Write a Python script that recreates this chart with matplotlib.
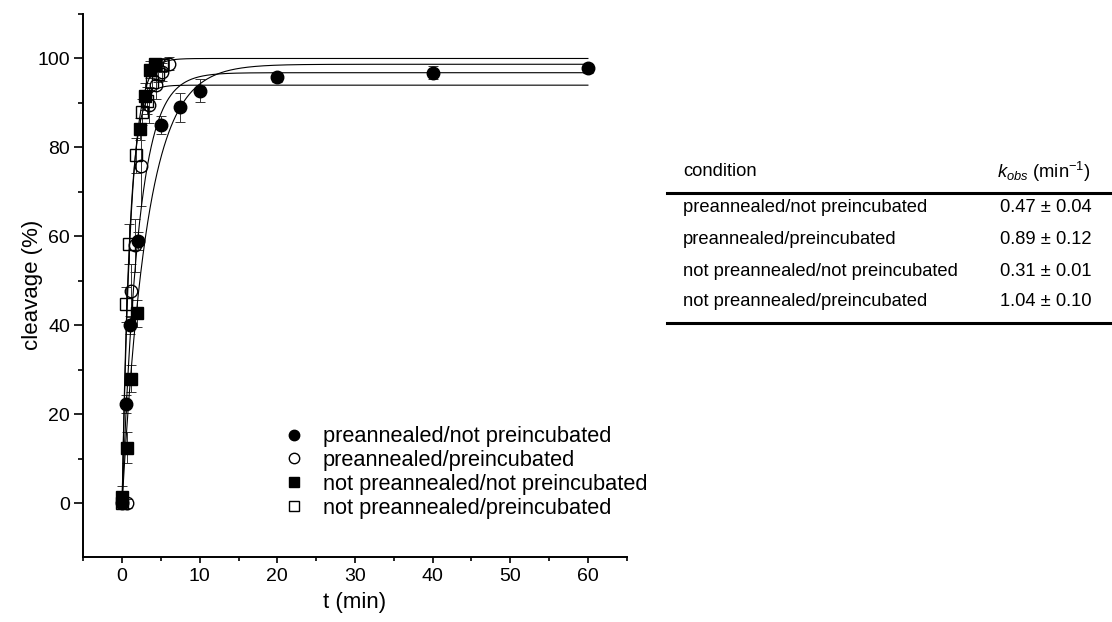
import numpy as np
import matplotlib
matplotlib.use("Agg")
import matplotlib.pyplot as plt
from matplotlib.lines import Line2D

plt.rcParams["font.family"] = ["Liberation Sans", "DejaVu Sans"]
plt.rcParams["mathtext.fontset"] = "custom"
plt.rcParams["mathtext.rm"] = "Liberation Sans"
plt.rcParams["mathtext.it"] = "Liberation Sans:italic"

# table / legend content
conditions = [
    "preannealed/not preincubated",
    "preannealed/preincubated",
    "not preannealed/not preincubated",
    "not preannealed/preincubated",
]
k_obs_text = ["0.47 ± 0.04", "0.89 ± 0.12", "0.31 ± 0.01", "1.04 ± 0.10"]

# fit parameters (rate from table, plateau)
k_obs = [0.47, 0.89, 0.31, 1.04]
plateau = [96.8, 100.0, 98.7, 94.0]

# preannealed / not preincubated (filled circles)
t_fc = [0, 0.5, 1, 2, 5, 7.5, 10, 20, 40, 60]
c_fc = [0, 22.3, 40.0, 59.0, 85.0, 89.0, 92.8, 95.8, 96.8, 97.8]
e_fc = [1.0, 2.0, 2.0, 2.0, 2.0, 3.2, 2.6, 1.0, 1.5, 1.0]

# preannealed / preincubated (open circles)
t_oc = [0.6, 1.1, 1.6, 2.4, 3.4, 4.4, 5.1, 6.1]
c_oc = [0, 47.8, 58.0, 75.8, 89.5, 94.0, 97.0, 98.8]
e_oc = [1.0, 6.0, 6.0, 9.0, 4.0, 3.0, 2.0, 1.5]

# not preannealed / not preincubated (filled squares)
t_fs = [0, 0.6, 1.2, 1.9, 2.3, 2.9, 3.6, 4.2]
c_fs = [1.5, 12.5, 28.0, 42.7, 84.2, 91.5, 97.5, 98.7]
e_fs = [2.5, 3.5, 3.0, 3.0, 2.5, 3.0, 2.0, 1.5]

# not preannealed / preincubated (open squares)
t_os = [0, 0.55, 0.9, 1.75, 2.5, 3.2, 3.9, 4.6, 5.2]
c_os = [0, 44.7, 58.4, 78.2, 88.0, 90.5, 94.7, 96.6, 98.5]
e_os = [1.0, 4.0, 4.5, 4.0, 3.0, 3.0, 2.0, 2.0, 1.5]

series = [
    (t_fc, c_fc, e_fc, "o", "black"),
    (t_oc, c_oc, e_oc, "o", "none"),
    (t_fs, c_fs, e_fs, "s", "black"),
    (t_os, c_os, e_os, "s", "none"),
]

fig = plt.figure(figsize=(11.12, 6.22), dpi=100)
ax = fig.add_axes([0.0749, 0.105, 0.4887, 0.8725])

t_fit = np.linspace(0, 60, 1200)
for k, a in zip(k_obs, plateau):
    ax.plot(t_fit, a * (1 - np.exp(-k * t_fit)), color="black", lw=0.8, zorder=2)

handles = []
for (t, c, e, m, fc), label in zip(series, conditions):
    ax.errorbar(t, c, yerr=e, fmt="none", ecolor="#333333", elinewidth=0.7,
                capsize=3.6, capthick=0.7, zorder=1)
    ms = 9 if m == "o" else 8.5
    ax.plot(t, c, linestyle="none", marker=m, ms=ms, mfc=fc, mec="black",
            mew=1.0, zorder=3)
    handles.append(Line2D([], [], linestyle="none", marker=m, ms=ms - 1.5,
                          mfc=fc, mec="black", mew=1.0, label=label))

ax.set_xlim(-5, 65)
ax.set_ylim(-12, 110)
ax.set_xticks(range(0, 61, 10))
ax.set_xticks(range(-5, 66, 10), minor=True)
ax.set_yticks(range(0, 101, 20))
ax.set_yticks(range(10, 111, 20), minor=True)
ax.spines["top"].set_visible(False)
ax.spines["right"].set_visible(False)
for s in ("left", "bottom"):
    ax.spines[s].set_linewidth(1.4)
ax.tick_params(axis="both", which="both", direction="out", width=1.2,
               labelsize=14)
ax.tick_params(axis="y", which="major", length=6.5, pad=3)
ax.tick_params(axis="y", which="minor", length=3.5)
ax.tick_params(axis="x", which="major", length=4.5, pad=4)
ax.tick_params(axis="x", which="minor", length=3)

ax.set_xlabel("t (min)", fontsize=16, labelpad=5)
ax.set_ylabel("cleavage (%)", fontsize=16, labelpad=-4)

ax.legend(handles=handles, loc="lower left", bbox_to_anchor=(0.348, 0.05),
          frameon=False, fontsize=15.7, handlelength=1.0, handletextpad=0.8,
          labelspacing=0.13, borderpad=0)

# kinetics table on the right
x_col1 = 0.614
x_col2 = 0.897
y_head = 1 - 172 / 622
tfs = 13.2
fig.text(x_col1, y_head, "condition", fontsize=tfs, va="center", ha="left")
fig.text(x_col2, y_head, r"$k_{obs}$ (min$^{-1}$)", fontsize=tfs, va="center",
         ha="left")
fig.add_artist(Line2D([0.600, 1.0], [1 - 193 / 622] * 2, color="black", lw=2.2,
                      transform=fig.transFigure))
row_y = [207, 239, 271, 302]
for cond, kt, yy in zip(conditions, k_obs_text, row_y):
    fig.text(x_col1, 1 - yy / 622, cond, fontsize=tfs, va="center", ha="left")
    fig.text(x_col2 + 0.002, 1 - yy / 622, kt, fontsize=tfs, va="center",
             ha="left")
fig.add_artist(Line2D([0.600, 1.0], [1 - 323 / 622] * 2, color="black", lw=2.2,
                      transform=fig.transFigure))

fig.savefig("out.png", dpi=100)
